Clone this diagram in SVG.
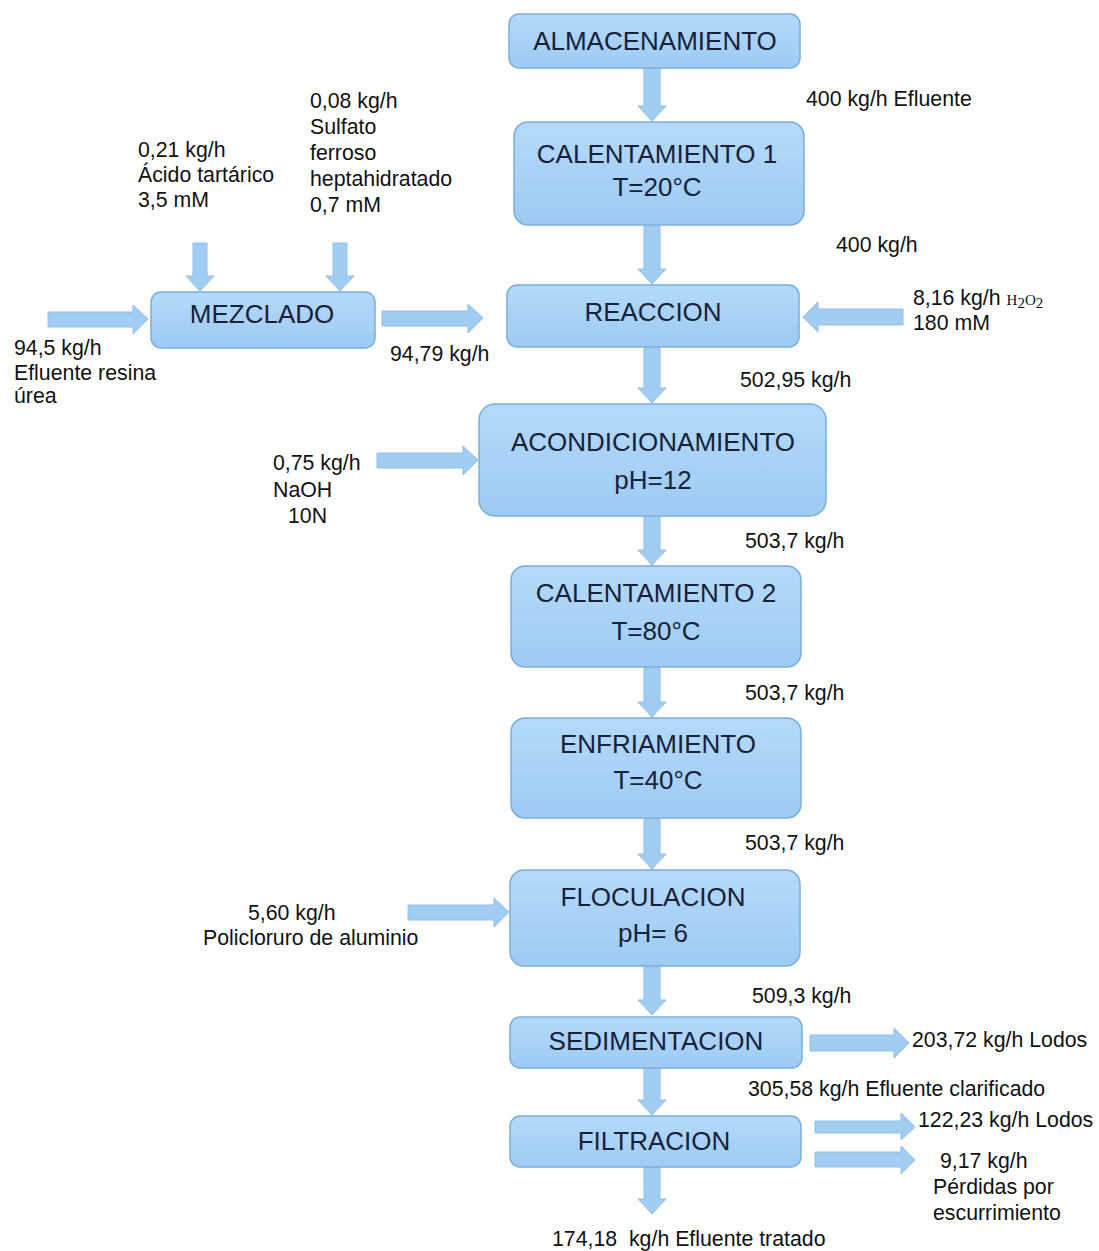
<svg xmlns="http://www.w3.org/2000/svg" width="1099" height="1251" viewBox="0 0 1099 1251">
<defs>
<linearGradient id="bg" x1="0" y1="0" x2="0" y2="1">
<stop offset="0" stop-color="#b3dafa"/>
<stop offset="1" stop-color="#9dcbf2"/>
</linearGradient>
<style>
.box{fill:url(#bg);stroke:#7aaedb;stroke-width:1.5}
.arr{fill:#a2cdf2;stroke:#8fbfe8;stroke-width:1}
.lbl{font-family:"Liberation Sans",Arial,sans-serif;font-size:26px;fill:#18213a;text-anchor:middle}
.t{font-family:"Liberation Sans",Arial,sans-serif;font-size:21.3px;fill:#111}
.sub{font-family:"Liberation Serif",serif;font-size:15px}
</style>
</defs>
<rect width="1099" height="1251" fill="#ffffff"/>

<g id="connectors">
<path class="arr" d="M644 68H660V106H666L652 121L638 106H644Z"/>
<path class="arr" d="M644 226H660V269H666L652 284L638 269H644Z"/>
<path class="arr" d="M644 348H660V388H666L652 403L638 388H644Z"/>
<path class="arr" d="M644 517H660V550H666L652 565L638 550H644Z"/>
<path class="arr" d="M644 668H660V702H666L652 717L638 702H644Z"/>
<path class="arr" d="M644 819H660V854H666L652 869L638 854H644Z"/>
<path class="arr" d="M644 967H660V1000H666L652 1015L638 1000H644Z"/>
<path class="arr" d="M644 1068H660V1100H666L652 1115L638 1100H644Z"/>
<path class="arr" d="M644 1167H660V1199H666L652 1214L638 1199H644Z"/>
<path class="arr" d="M193 243H207V276H214L200 291L186 276H193Z"/>
<path class="arr" d="M333 243H347V276H354L340 291L326 276H333Z"/>
<path class="arr" d="M48 312V327H133V334L148 319L133 305V312Z"/>
<path class="arr" d="M382 311V326H468V333L483 318L468 304V311Z"/>
<path class="arr" d="M903 309V325H818V332L803 317L818 302V309Z"/>
<path class="arr" d="M377 453V468H463V475L478 460L463 446V453Z"/>
<path class="arr" d="M408 905V920H494V927L509 912L494 898V905Z"/>
<path class="arr" d="M810 1035V1051H894V1058L909 1043L894 1028V1035Z"/>
<path class="arr" d="M815 1121V1133H901V1140L915 1127L901 1113V1121Z"/>
<path class="arr" d="M815 1152V1167H901V1174L915 1160L901 1146V1152Z"/>
</g>

<g id="almacenamiento"><rect class="box" x="509" y="14" width="291" height="54" rx="10"/><text class="lbl" x="655" y="50">ALMACENAMIENTO</text></g>
<g id="calentamiento1"><rect class="box" x="514" y="122" width="290" height="103" rx="14"/><text class="lbl" x="657" y="163">CALENTAMIENTO 1</text><text class="lbl" x="657" y="196">T=20°C</text></g>
<g id="mezclado"><rect class="box" x="151" y="292" width="224" height="56" rx="10"/><text class="lbl" x="262" y="323">MEZCLADO</text></g>
<g id="reaccion"><rect class="box" x="507" y="285" width="292" height="62" rx="10"/><text class="lbl" x="653" y="321">REACCION</text></g>
<g id="acondicionamiento"><rect class="box" x="479" y="404" width="347" height="112" rx="16"/><text class="lbl" x="653" y="451">ACONDICIONAMIENTO</text><text class="lbl" x="653" y="489">pH=12</text></g>
<g id="calentamiento2"><rect class="box" x="511" y="566" width="290" height="101" rx="14"/><text class="lbl" x="656" y="602">CALENTAMIENTO 2</text><text class="lbl" x="656" y="640">T=80°C</text></g>
<g id="enfriamiento"><rect class="box" x="511" y="718" width="290" height="100" rx="14"/><text class="lbl" x="658" y="753">ENFRIAMIENTO</text><text class="lbl" x="658" y="789">T=40°C</text></g>
<g id="floculacion"><rect class="box" x="510" y="870" width="290" height="96" rx="14"/><text class="lbl" x="653" y="906">FLOCULACION</text><text class="lbl" x="653" y="942">pH= 6</text></g>
<g id="sedimentacion"><rect class="box" x="510" y="1017" width="292" height="51" rx="10"/><text class="lbl" x="656" y="1050">SEDIMENTACION</text></g>
<g id="filtracion"><rect class="box" x="510" y="1116" width="291" height="51" rx="10"/><text class="lbl" x="654" y="1150">FILTRACION</text></g>

<g id="labels">
<text class="t" x="806" y="106">400 kg/h Efluente</text>
<text class="t" x="310" y="108">0,08 kg/h</text>
<text class="t" x="310" y="134">Sulfato</text>
<text class="t" x="310" y="160">ferroso</text>
<text class="t" x="310" y="186">heptahidratado</text>
<text class="t" x="310" y="212">0,7 mM</text>
<text class="t" x="138" y="157">0,21 kg/h</text>
<text class="t" x="138" y="182">Ácido tartárico</text>
<text class="t" x="138" y="207">3,5 mM</text>
<text class="t" x="836" y="252">400 kg/h</text>
<text class="t" x="913" y="305">8,16 kg/h <tspan class="sub">H</tspan><tspan class="sub" font-size="10" dy="3">2</tspan><tspan class="sub" dy="-3">O</tspan><tspan class="sub" font-size="10" dy="3">2</tspan></text>
<text class="t" x="913" y="330">180 mM</text>
<text class="t" x="14" y="355">94,5 kg/h</text>
<text class="t" x="14" y="380">Efluente resina</text>
<text class="t" x="14" y="403">úrea</text>
<text class="t" x="390" y="361">94,79 kg/h</text>
<text class="t" x="740" y="387">502,95 kg/h</text>
<text class="t" x="273" y="470">0,75 kg/h</text>
<text class="t" x="273" y="497">NaOH</text>
<text class="t" x="288" y="523">10N</text>
<text class="t" x="745" y="548">503,7 kg/h</text>
<text class="t" x="745" y="700">503,7 kg/h</text>
<text class="t" x="745" y="850">503,7 kg/h</text>
<text class="t" x="248" y="920">5,60 kg/h</text>
<text class="t" x="203" y="945">Policloruro de aluminio</text>
<text class="t" x="752" y="1003">509,3 kg/h</text>
<text class="t" x="912" y="1047">203,72 kg/h Lodos</text>
<text class="t" x="748" y="1096">305,58 kg/h Efluente clarificado</text>
<text class="t" x="918" y="1127">122,23 kg/h Lodos</text>
<text class="t" x="940" y="1168">9,17 kg/h</text>
<text class="t" x="933" y="1194">Pérdidas por</text>
<text class="t" x="933" y="1220">escurrimiento</text>
<text class="t" x="552" y="1246" xml:space="preserve">174,18  kg/h Efluente tratado</text>
</g>
</svg>
